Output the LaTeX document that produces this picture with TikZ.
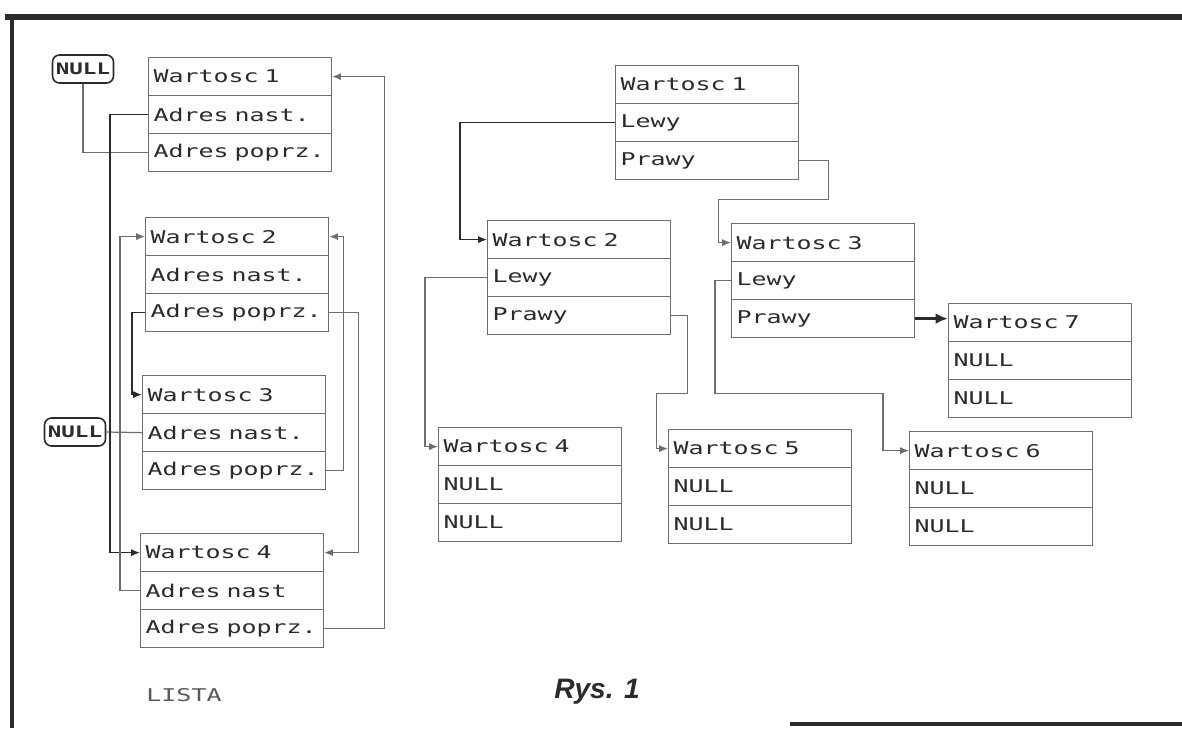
\documentclass[tikz,border=0pt]{standalone}
\usepackage{fontspec}
\setmainfont{Liberation Sans}
\newfontfamily\dotfont[FakeStretch=1.42]{DejaVu Sans Mono}
\usetikzlibrary{arrows.meta}
\definecolor{inkGray}{HTML}{2B2B2B}
\definecolor{lineGray}{HTML}{6E6E6E}

\begin{document}
\begin{tikzpicture}[x=0.02cm, y=-0.02cm,
  cell/.style={draw=lineGray, line width=0.7pt, anchor=north west,
               minimum height=0.76cm, text width=3.46cm, inner xsep=0.1cm,
               align=left, font={\dotfont\fontsize{10}{12}\selectfont}, text=inkGray},
  nullbox/.style={draw=inkGray, line width=0.9pt, rounded corners=4pt,
                  minimum width=1.22cm, minimum height=0.56cm, inner sep=1pt,
                  font={\dotfont\bfseries\fontsize{9}{12}\selectfont}, text=inkGray},
  link/.style={draw=lineGray, line width=0.7pt},
  ptr/.style={link, -{Latex[length=5pt,width=4pt]}},
]
  \useasboundingbox (0,0) rectangle (1182,728);

  % frame
  \draw[line width=3.4pt, inkGray] (5,17) -- (1182,17);
  \draw[line width=2.8pt, inkGray] (12,17) -- (12,728);
  \draw[line width=2pt, inkGray] (790,724) -- (1182,724);

  % LISTA
  \node[nullbox] (null1) at (83,69) {NULL};
  \node[cell] (lw1) at (148,57) {Wartosc 1};
  \node[cell] (ln1) at (148,95) {Adres nast.};
  \node[cell] (lp1) at (148,133) {Adres poprz.};

  \node[cell] (lw2) at (145,217) {Wartosc 2};
  \node[cell] (ln2) at (145,255) {Adres nast.};
  \node[cell] (lp2) at (145,293) {Adres poprz.};

  \node[nullbox] (null2) at (75,432) {NULL};
  \node[cell] (lw3) at (142,375) {Wartosc 3};
  \node[cell] (ln3) at (142,413) {Adres nast.};
  \node[cell] (lp3) at (142,451) {Adres poprz.};

  \node[cell] (lw4) at (140,533) {Wartosc 4};
  \node[cell] (ln4) at (140,571) {Adres nast};
  \node[cell] (lp4) at (140,609) {Adres poprz.};

  \draw[link] (null1.south) |- (lp1.west);
  \draw[link] (null2.east) -- (ln3.west);
  \draw[ptr, draw=inkGray] (ln1.west) -- ++(-38,0) |- (lw4.west);
  \draw[ptr] (ln4.west) -- ++(-20,0) |- (lw2.west);
  \draw[ptr, draw=inkGray] (lp2.west) -- ++(-13,0) |- (lw3.west);
  \draw[ptr] (lp4.east) -- ++(60,0) |- (lw1.east);
  \draw[ptr] (lp3.east) -- ++(17,0) |- (lw2.east);
  \draw[ptr] (lp2.east) -- ++(29,0) |- (lw4.east);

  % DRZEWO
  \node[cell] (tw1) at (615,65) {Wartosc 1};
  \node[cell] (tl1) at (615,103) {Lewy};
  \node[cell] (tp1) at (615,141) {Prawy};

  \node[cell] (tw2) at (487,220) {Wartosc 2};
  \node[cell] (tl2) at (487,258) {Lewy};
  \node[cell] (tp2) at (487,296) {Prawy};

  \node[cell] (tw3) at (731,223) {Wartosc 3};
  \node[cell] (tl3) at (731,261) {Lewy};
  \node[cell] (tp3) at (731,299) {Prawy};

  \node[cell] (tw7) at (948,303) {Wartosc 7};
  \node[cell] (tl7) at (948,341) {NULL};
  \node[cell] (tp7) at (948,379) {NULL};

  \node[cell] (tw4) at (438,427) {Wartosc 4};
  \node[cell] (tl4) at (438,465) {NULL};
  \node[cell] (tp4) at (438,503) {NULL};

  \node[cell] (tw5) at (668,429) {Wartosc 5};
  \node[cell] (tl5) at (668,467) {NULL};
  \node[cell] (tp5) at (668,505) {NULL};

  \node[cell] (tw6) at (909,431) {Wartosc 6};
  \node[cell] (tl6) at (909,469) {NULL};
  \node[cell] (tp6) at (909,507) {NULL};

  \draw[ptr, draw=inkGray] (tl1.west) -- ++(-155,0) |- (tw2.west);
  \draw[ptr] (tp1.east) -- ++(29,0) -- ++(0,39) -- ++(-110,0) |- (tw3.west);
  \draw[ptr] (tl2.west) -- ++(-62,0) |- (tw4.west);
  \draw[ptr] (tp2.east) -- ++(16,0) -- ++(0,78) -- ++(-31,0) |- (tw5.west);
  \draw[ptr] (tl3.west) -- ++(-16,0) -- ++(0,113) -- ++(168,0) |- (tw6.west);
  \draw[draw=inkGray, line width=1.6pt, -{Latex[length=7pt,width=6pt]}]
    (tp3.east) -- (tw7.west |- tp3.east);

  % podpisy
  \node[font={\dotfont\fontsize{10}{12}\selectfont}, text=black!65] (lista) at (184,695) {LISTA};
  \node[font={\bfseries\itshape\fontsize{16}{18}\selectfont}, text=inkGray] (rys) at (597,692) {Rys. 1};
\end{tikzpicture}
\end{document}
